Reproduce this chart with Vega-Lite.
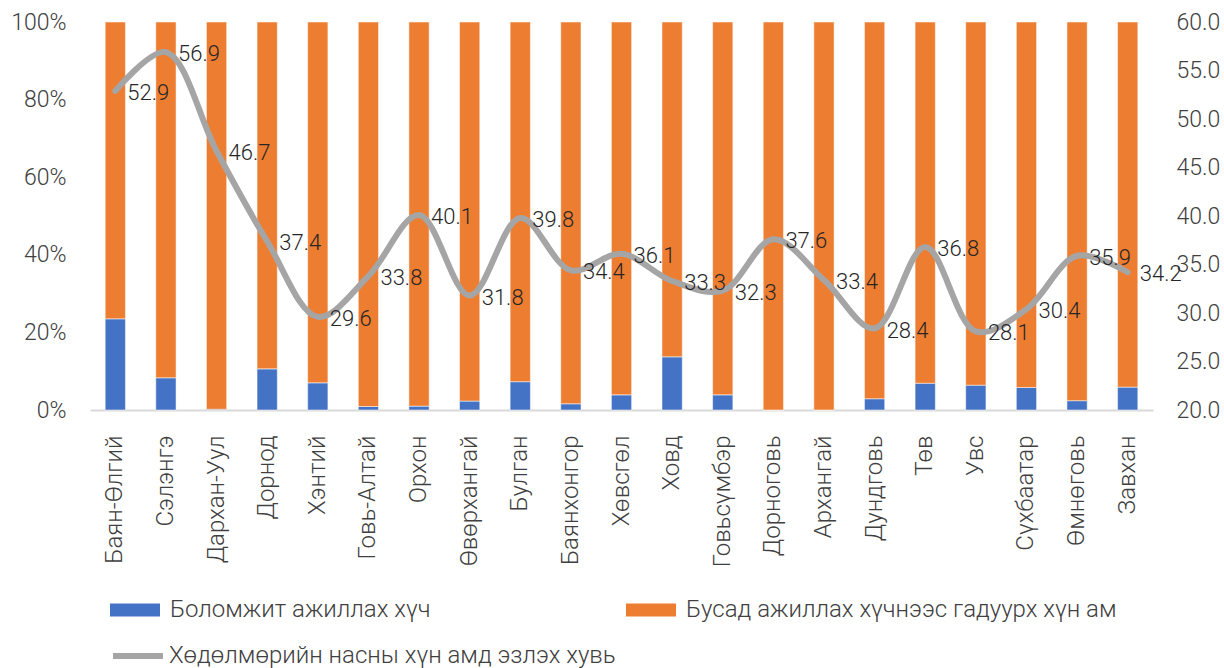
{
  "$schema": "https://vega.github.io/schema/vega-lite/v6.json",
  "width": 1063,
  "height": 388,
  "autosize": {"type": "none"},
  "padding": {"left": 90, "top": 22, "right": 71, "bottom": 258},
  "config": {
    "view": {"stroke": null},
    "font": "Roboto",
    "axis": {"labelFont": "Roboto", "labelFontWeight": 300, "labelColor": "#404040", "labelFontSize": 23, "grid": false, "ticks": false, "title": null},
    "legend": {"labelFont": "Roboto", "labelFontWeight": 300, "labelColor": "#404040", "labelFontSize": 24, "padding": 0, "rowPadding": 0, "labelOffset": 10, "title": null, "labelLimit": 800}
  },
  "data": {
    "values": [
      {"region": "Баян-Өлгий", "potential": 23.5, "other": 76.5, "rate": 52.9},
      {"region": "Сэлэнгэ", "potential": 8.3, "other": 91.7, "rate": 56.9},
      {"region": "Дархан-Уул", "potential": 0.2, "other": 99.8, "rate": 46.7},
      {"region": "Дорнод", "potential": 10.6, "other": 89.4, "rate": 37.4},
      {"region": "Хэнтий", "potential": 7.0, "other": 93.0, "rate": 29.6},
      {"region": "Говь-Алтай", "potential": 0.9, "other": 99.1, "rate": 33.8},
      {"region": "Орхон", "potential": 1.0, "other": 99.0, "rate": 40.1},
      {"region": "Өвөрхангай", "potential": 2.3, "other": 97.7, "rate": 31.8},
      {"region": "Булган", "potential": 7.3, "other": 92.7, "rate": 39.8},
      {"region": "Баянхонгор", "potential": 1.6, "other": 98.4, "rate": 34.4},
      {"region": "Хөвсгөл", "potential": 3.9, "other": 96.1, "rate": 36.1},
      {"region": "Ховд", "potential": 13.7, "other": 86.3, "rate": 33.3},
      {"region": "Говьсүмбэр", "potential": 3.9, "other": 96.1, "rate": 32.3},
      {"region": "Дорноговь", "potential": 0.0, "other": 100.0, "rate": 37.6},
      {"region": "Архангай", "potential": 0.0, "other": 100.0, "rate": 33.4},
      {"region": "Дундговь", "potential": 2.9, "other": 97.1, "rate": 28.4},
      {"region": "Төв", "potential": 6.9, "other": 93.1, "rate": 36.8},
      {"region": "Увс", "potential": 6.4, "other": 93.6, "rate": 28.1},
      {"region": "Сүхбаатар", "potential": 5.8, "other": 94.2, "rate": 30.4},
      {"region": "Өмнөговь", "potential": 2.4, "other": 97.6, "rate": 35.9},
      {"region": "Завхан", "potential": 5.9, "other": 94.1, "rate": 34.2}
    ]
  },
  "encoding": {
    "x": {
      "field": "region", "type": "nominal", "sort": null,
      "scale": {"paddingInner": 0.6, "paddingOuter": 0.3},
      "axis": {"labelAngle": -90, "labelPadding": 25, "labelFontSize": 24, "domainColor": "#D9D9D9", "domainWidth": 2, "labelLimit": 300}
    }
  },
  "layer": [
    {
      "transform": [{"fold": ["potential", "other"], "as": ["series", "pct"]}],
      "mark": {"type": "bar", "stroke": "white", "strokeWidth": 0.5},
      "encoding": {
        "y": {"field": "pct", "type": "quantitative", "stack": "normalize",
              "axis": {"format": ".0%", "values": [0, 0.2, 0.4, 0.6, 0.8, 1], "domain": false, "labelPadding": 24}},
        "color": {"field": "series", "type": "nominal",
                  "scale": {"domain": ["potential", "other"], "range": ["#4472C4", "#ED7D31"]},
                  "legend": {"orient": "none", "legendX": 20, "legendY": 563, "direction": "horizontal", "columns": 2, "columnPadding": 195,
                             "symbolType": "M-1,-0.26H1V0.26H-1Z", "symbolSize": 2500, "symbolStrokeWidth": 0,
                             "labelExpr": "datum.value == 'potential' ? 'Боломжит ажиллах хүч' : 'Бусад ажиллах хүчнээс гадуурх хүн ам'"}},
        "order": {"field": "series", "sort": "descending"}
      }
    },
    {
      "encoding": {
        "y": {"field": "rate", "type": "quantitative", "scale": {"domain": [20, 60]},
              "axis": {"orient": "right", "format": ".1f", "values": [20, 25, 30, 35, 40, 45, 50, 55, 60], "domain": false, "labelPadding": 23}}
      },
      "layer": [
        {
          "mark": {"type": "line", "interpolate": "catmull-rom", "strokeWidth": 6, "strokeCap": "round", "strokeJoin": "round"},
          "encoding": {
            "stroke": {"datum": "Хөдөлмөрийн насны хүн амд эзлэх хувь", "type": "nominal",
                       "scale": {"range": ["#A5A5A5"]},
                       "legend": {"orient": "none", "legendX": 20, "legendY": 606, "labelOffset": 3,
                                  "symbolType": "M-1,0H1", "symbolSize": 2500, "symbolStrokeWidth": 6, "symbolStrokeColor": "#A5A5A5"}}
          }
        },
        {
          "mark": {"type": "text", "dx": 33, "dy": 2, "fontSize": 22, "fontWeight": 300, "font": "Roboto", "fill": "#262626", "align": "center", "baseline": "middle"},
          "encoding": {"text": {"field": "rate", "type": "quantitative", "format": ".1f"}}
        }
      ]
    }
  ],
  "resolve": {"scale": {"y": "independent"}}
}
